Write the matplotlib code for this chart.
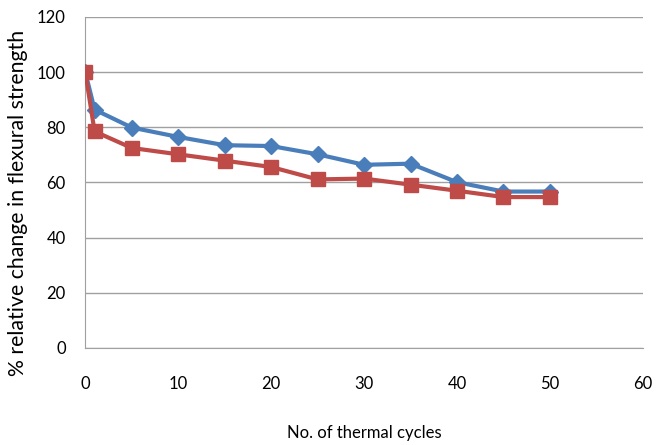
import matplotlib
matplotlib.use("Agg")
import matplotlib.pyplot as plt
import numpy as np

cycles = [0, 1, 5, 10, 15, 20, 25, 30, 35, 40, 45, 50]
series_blue = [100, 86.4, 79.9, 76.5, 73.5, 73.2, 70.2, 66.4, 66.8, 60.1, 56.7, 56.7]
series_red = [100, 78.5, 72.5, 70.2, 67.9, 65.6, 61.1, 61.4, 59.2, 57.0, 54.7, 54.7]
xticks = [0, 10, 20, 30, 40, 50, 60]
yticks = [0, 20, 40, 60, 80, 100, 120]

plt.rcParams['font.family'] = ['Lato', 'DejaVu Sans']

fig = plt.figure(figsize=(6.56, 4.45), dpi=100)
ax = fig.add_axes([0.130, 0.218, 0.850, 0.744])

ax.plot(cycles, series_blue, color='#4A7EBB', lw=3, marker='D', ms=8,
        markerfacecolor='#4A7EBB', markeredgecolor='#4A7EBB', zorder=3)
ax.plot(cycles, series_red, color='#BE4B48', lw=3, marker='s', ms=10,
        markerfacecolor='#BE4B48', markeredgecolor='#BE4B48', zorder=4)

ax.set_xlim(0, 60)
ax.set_ylim(0, 120)
ax.set_xticks(xticks)
ax.set_yticks(yticks)
ax.yaxis.grid(True, color='#A0A0A0', lw=1)
ax.set_axisbelow(True)
for s in ['top', 'right']:
    ax.spines[s].set_visible(False)
for s in ['left', 'bottom']:
    ax.spines[s].set_color('#A0A0A0')
ax.tick_params(axis='both', length=0, labelsize=12, colors='#000000')
ax.tick_params(axis='x', pad=20)
ax.tick_params(axis='y', pad=14)
ax.set_xlabel('No. of thermal cycles', fontsize=12, labelpad=24)
ax.set_ylabel('% relative change in flexural strength', fontsize=15.3,
              va='center')
ax.yaxis.set_label_coords(-0.12, 0.438)

fig.savefig('out.png', dpi=100)
